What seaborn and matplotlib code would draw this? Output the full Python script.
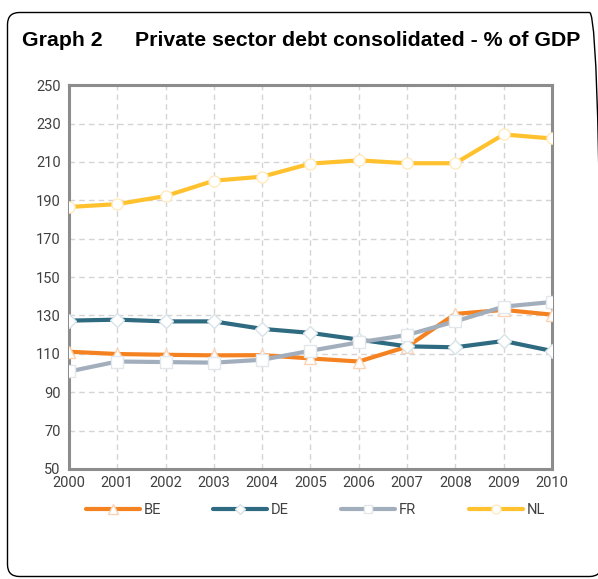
import pandas as pd
import seaborn as sns
import matplotlib.pyplot as plt
from matplotlib.patches import FancyBboxPatch

years = list(range(2000, 2011))
be = [111.1, 109.9, 109.5, 109.2, 109.3, 107.6, 106.0, 113.7, 130.8, 132.9, 130.4]
de = [127.3, 127.8, 126.9, 126.9, 123.0, 120.9, 117.4, 113.9, 113.4, 116.7, 111.5]
fr = [100.8, 106.0, 105.7, 105.4, 106.9, 111.6, 116.0, 119.8, 126.9, 134.6, 137.0]
nl = [186.5, 188.0, 192.2, 200.2, 202.3, 209.1, 210.8, 209.3, 209.3, 224.3, 222.2]

series = {"BE": be, "DE": de, "FR": fr, "NL": nl}
colors = {"BE": "#F58220", "DE": "#2E6A80", "FR": "#A3AEBC", "NL": "#FFC22E"}
markers = {"BE": "^", "DE": "D", "FR": "s", "NL": "o"}
msizes = {"BE": 9, "DE": 7, "FR": 8, "NL": 8}
edges = {"BE": "#FAD3B5", "DE": "#D8E3E8", "FR": "#E3E6EA", "NL": "#FFEBC0"}

rows = []
for name, vals in series.items():
    for y, v in zip(years, vals):
        rows.append([y, v, name])
df = pd.DataFrame(rows, columns=["year", "value", "country"])

sns.set_style("white")
plt.rcParams['font.family'] = ['Roboto', 'DejaVu Sans']

fig = plt.figure(figsize=(5.98, 5.79), dpi=100)
ax = fig.add_axes([0.1154, 0.19, 0.8076, 0.663])

for name in series:
    sub = df[df["country"] == name]
    sns.lineplot(data=sub, x="year", y="value", ax=ax, color=colors[name],
                 linewidth=3.0, marker=markers[name], markersize=msizes[name],
                 markerfacecolor="white", markeredgecolor=edges[name],
                 markeredgewidth=1.0, label=name, zorder=3)

ax.set_xlim(2000, 2010)
ax.set_ylim(50, 250)
ax.set_xticks(years)
ax.set_yticks(range(50, 251, 20))
ax.set_xlabel("")
ax.set_ylabel("")
ax.grid(True, color="#D4D4D4", linestyle=(0, (4, 3)), linewidth=1.0)
for s in ax.spines.values():
    s.set_color("#8C8C8C")
    s.set_linewidth(2.2)
ax.tick_params(axis="both", labelsize=10.5, labelcolor="#404040", color="#8C8C8C",
               length=4, width=1.5, pad=1, direction="out")
ax.tick_params(axis="y", pad=2)

ax.legend(loc="upper center", bbox_to_anchor=(0.51, -0.055), ncol=4, frameon=False,
          handlelength=3.7, columnspacing=3.6, handletextpad=0.25, numpoints=1,
          fontsize=10.5, labelcolor="#404040", markerscale=0.8)

fig.text(22 / 598, 1 - 46 / 579, "Graph 2", fontsize=15.3, fontweight="bold",
         family="Liberation Sans", color="black")
fig.text(135 / 598, 1 - 46 / 579, "Private sector debt consolidated - % of GDP",
         fontsize=15.3, fontweight="bold", family="Liberation Sans", color="black")

border = FancyBboxPatch((7.5, 2.5), 594, 564, boxstyle="round,pad=0,rounding_size=12",
                        transform=None, facecolor="none", edgecolor="black",
                        linewidth=1.0)
fig.patches.append(border)

fig.savefig("out.png", dpi=100)
